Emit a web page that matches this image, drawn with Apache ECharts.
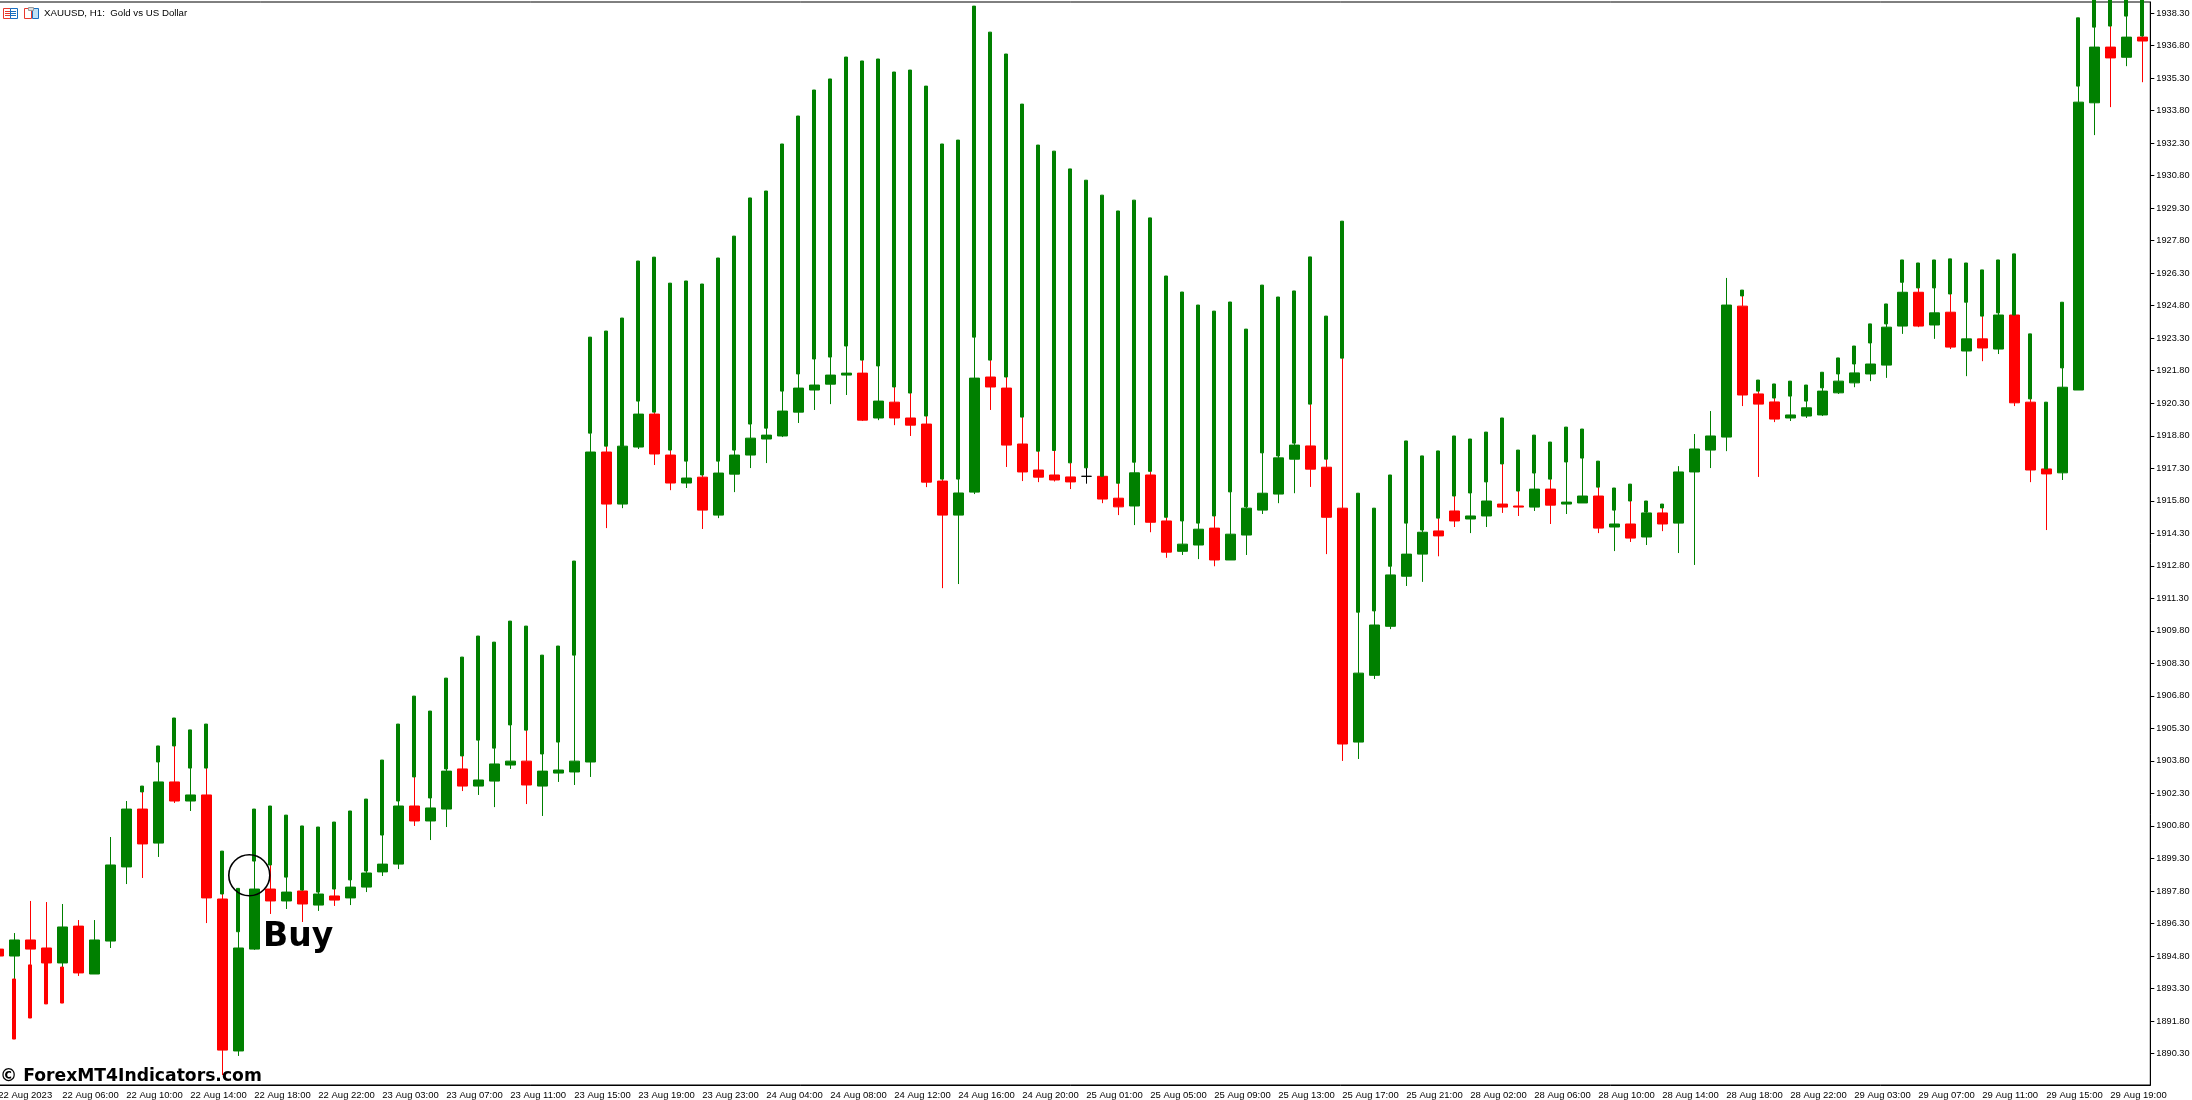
<!DOCTYPE html>
<html>
<head>
<meta charset="utf-8">
<title>XAUUSD, H1</title>
<style>
  html, body { margin: 0; padding: 0; background: #fff; overflow: hidden; }
  /* first bar is cut by the left edge of the window, same as the terminal */
  #chart { width: 2202px; height: 1100px; margin-left: -10px; }
</style>
<script src="https://cdn.jsdelivr.net/npm/echarts@6/dist/echarts.min.js"></script>
</head>
<body>
<div id="chart"></div>
<script>
// hourly bars
const opens = [
  1895.12,1894.80,1895.54,1895.17,1894.48,1896.18,1893.97,1895.49,1898.91,1901.58,
  1900.01,1902.83,1901.95,1902.23,1897.43,1890.42,1895.12,1897.89,1897.34,1897.80,
  1897.15,1897.57,1897.48,1897.98,1898.68,1899.04,1901.72,1901.03,1901.58,1903.43,
  1902.64,1902.87,1903.61,1903.79,1902.64,1903.24,1903.29,1903.75,1918.05,1915.65,
  1918.28,1919.80,1917.91,1916.62,1916.89,1915.14,1917.03,1917.91,1918.65,1918.79,
  1919.89,1920.91,1921.18,1921.60,1921.69,1919.62,1920.35,1919.62,1919.34,1916.71,
  1915.14,1916.20,1921.51,1921.00,1918.42,1917.22,1916.99,1916.90,1916.93,1916.93,
  1915.92,1915.56,1916.99,1914.87,1913.47,1913.76,1914.54,1913.07,1914.22,1915.37,
  1916.11,1917.72,1918.33,1917.35,1915.46,1904.67,1907.75,1910.01,1912.32,1913.34,
  1914.41,1915.33,1914.96,1915.10,1915.65,1915.56,1915.51,1916.34,1915.65,1915.70,
  1916.02,1914.59,1914.73,1914.13,1915.24,1914.77,1917.13,1918.14,1918.74,1924.78,
  1920.73,1920.36,1919.62,1919.71,1919.76,1920.78,1921.24,1921.65,1922.06,1923.86,
  1925.42,1923.91,1924.50,1922.71,1923.27,1922.80,1924.37,1920.35,1917.27,1917.09,
  1920.91,1934.16,1936.73,1936.26,1937.19
];
const closes = [
  1894.80,1895.54,1895.12,1894.48,1896.14,1894.02,1895.54,1899.00,1901.58,1899.97,
  1902.83,1901.95,1902.23,1897.48,1890.46,1895.17,1897.89,1897.34,1897.75,1897.20,
  1897.66,1897.38,1897.98,1898.63,1899.04,1901.72,1901.03,1901.63,1903.33,1902.64,
  1902.92,1903.66,1903.79,1902.69,1903.33,1903.38,1903.79,1918.05,1915.65,1918.32,
  1919.80,1917.96,1916.62,1916.85,1915.37,1917.08,1917.91,1918.69,1918.83,1919.94,
  1921.00,1921.14,1921.60,1921.69,1919.52,1920.40,1919.62,1919.29,1916.66,1915.14,
  1916.16,1921.46,1921.05,1918.37,1917.13,1916.89,1916.76,1916.67,1916.93,1915.88,
  1915.52,1917.09,1914.81,1913.43,1913.80,1914.49,1913.07,1914.26,1915.46,1916.15,
  1917.78,1918.37,1917.26,1915.04,1904.58,1907.85,1910.07,1912.38,1913.34,1914.35,
  1914.18,1914.87,1915.10,1915.79,1915.51,1915.51,1916.34,1915.60,1915.74,1916.02,
  1914.54,1914.73,1914.08,1915.24,1914.73,1917.13,1918.19,1918.79,1924.83,1920.68,
  1920.26,1919.57,1919.76,1920.09,1920.86,1921.32,1921.70,1922.11,1923.81,1925.42,
  1923.86,1924.47,1922.89,1923.27,1922.85,1924.37,1920.32,1917.22,1917.04,1921.04,
  1934.19,1936.73,1936.23,1937.19,1937.01
];
const highs = [
  1895.23,1895.86,1897.34,1897.29,1897.20,1896.46,1896.46,1900.29,1901.95,1902.37,
  1903.75,1904.49,1903.47,1903.47,1897.66,1895.92,1899.18,1899.00,1898.44,1897.84,
  1897.75,1897.89,1898.31,1898.72,1900.38,1901.95,1903.06,1902.09,1903.43,1904.03,
  1904.76,1904.39,1905.46,1905.22,1904.12,1904.67,1908.68,1918.92,1918.32,1918.32,
  1920.40,1919.89,1918.14,1917.63,1916.99,1917.63,1918.14,1919.34,1919.15,1920.86,
  1921.65,1922.34,1922.43,1922.94,1922.29,1922.02,1921.05,1920.77,1919.71,1916.80,
  1916.80,1923.35,1922.29,1921.51,1919.66,1918.09,1918.12,1917.55,1917.32,1916.93,
  1916.61,1917.58,1917.16,1915.04,1914.87,1914.77,1915.10,1916.21,1915.52,1918.01,
  1917.87,1918.46,1920.26,1917.72,1922.38,1910.66,1910.72,1912.78,1914.77,1914.45,
  1915.00,1916.02,1916.16,1916.67,1917.50,1916.25,1917.08,1916.80,1917.59,1917.77,
  1916.43,1915.37,1915.79,1915.28,1915.47,1917.40,1918.88,1919.94,1926.08,1925.25,
  1920.86,1920.54,1920.63,1920.40,1921.01,1921.65,1922.11,1923.08,1923.96,1925.88,
  1925.62,1925.62,1925.34,1924.96,1924.32,1924.47,1924.37,1920.50,1917.27,1921.93,
  1934.93,1937.65,1937.70,1938.16,1937.24
];
const lows = [
  1894.77,1893.74,1894.39,1894.48,1894.29,1893.88,1893.97,1895.17,1898.12,1898.40,
  1899.37,1901.86,1901.49,1896.32,1889.31,1890.19,1895.08,1896.74,1896.97,1896.37,
  1896.88,1897.11,1897.15,1897.75,1898.49,1898.81,1900.80,1900.15,1900.75,1902.41,
  1902.23,1901.67,1903.43,1901.81,1901.26,1902.83,1902.69,1903.06,1914.54,1915.46,
  1918.19,1917.45,1916.29,1916.39,1914.50,1915.00,1916.20,1917.31,1917.54,1918.74,
  1919.39,1919.99,1920.26,1920.68,1919.48,1919.52,1919.29,1918.79,1916.43,1911.77,
  1911.96,1916.11,1919.99,1917.36,1916.71,1916.66,1916.69,1916.34,1916.59,1915.69,
  1915.14,1914.68,1914.35,1913.17,1913.30,1913.11,1912.78,1913.07,1913.30,1915.19,
  1915.69,1916.15,1916.44,1913.34,1903.80,1903.89,1907.58,1909.88,1911.87,1912.06,
  1913.24,1914.59,1914.31,1914.59,1915.24,1915.10,1915.33,1914.73,1915.19,1915.70,
  1914.31,1913.48,1913.90,1913.76,1914.40,1913.39,1912.84,1917.31,1918.09,1920.17,
  1916.90,1919.43,1919.48,1919.62,1919.71,1920.73,1921.04,1921.32,1921.47,1923.50,
  1923.81,1923.27,1922.80,1921.55,1922.24,1922.57,1920.17,1916.66,1914.45,1916.76,
  1920.91,1932.67,1933.96,1935.85,1935.11
];
// the indicator's thick bars: open above close means a red one
const bandOpens = [
  null,1893.74,1894.39,1894.48,1894.29,null,null,null,null,1902.37,
  1903.75,1904.49,1903.47,1903.47,1897.66,1895.92,1899.18,1899.00,1898.44,1897.84,
  1897.75,1897.89,1898.31,1898.72,1900.38,1901.95,1903.06,1902.09,1903.43,1904.03,
  1904.76,1904.39,1905.46,1905.22,1904.12,1904.67,1908.68,1918.92,1918.32,1918.32,
  1920.40,1919.89,1918.14,1917.63,1916.99,1917.63,1918.14,1919.34,1919.15,1920.86,
  1921.65,1922.34,1922.43,1922.94,1922.29,1922.02,1921.05,1920.77,1919.71,1916.80,
  1916.80,1923.35,1922.29,1921.51,1919.66,1918.09,1918.12,1917.55,1917.32,1916.93,
  1916.61,1917.58,1917.16,1915.04,1914.87,1914.77,1915.10,1916.21,1915.52,1918.01,
  1917.87,1918.46,1920.26,1917.72,1922.38,1910.66,1910.72,1912.78,1914.77,1914.45,
  1915.00,1916.02,1916.16,1916.67,1917.50,1916.25,1917.08,1916.80,1917.59,1917.77,
  1916.43,1915.37,1915.79,1915.28,1915.47,null,null,null,null,1925.25,
  1920.86,1920.54,1920.63,1920.40,1921.01,1921.65,1922.11,1923.08,1923.96,1925.88,
  1925.62,1925.62,1925.34,1924.96,1924.32,1924.47,1924.37,1920.50,1917.27,1921.93,
  1934.93,1937.65,1937.70,1938.16,1937.24
];
const bandCloses = [
  null,1890.97,1891.94,1892.59,1892.63,null,null,null,null,1902.64,
  1904.49,1905.78,1905.23,1905.50,1899.64,1897.92,1901.58,1901.72,1901.30,1900.80,
  1900.75,1900.98,1901.49,1902.04,1903.84,1905.50,1906.79,1906.10,1907.62,1908.59,
  1909.56,1909.28,1910.25,1910.02,1908.68,1909.10,1913.02,1923.35,1923.63,1924.23,
  1926.86,1927.04,1925.84,1925.94,1925.80,1927.00,1928.01,1929.77,1930.09,1932.26,
  1933.55,1934.75,1935.26,1936.27,1936.09,1936.18,1935.58,1935.67,1934.93,1932.26,
  1932.44,1938.62,1937.42,1936.41,1934.10,1932.21,1931.93,1931.11,1930.59,1929.90,
  1929.17,1929.67,1928.85,1926.17,1925.43,1924.83,1924.55,1924.97,1923.72,1925.75,
  1925.20,1925.48,1927.05,1924.32,1928.70,1916.15,1915.46,1916.99,1918.56,1917.87,
  1918.10,1918.79,1918.65,1918.97,1919.62,1918.14,1918.83,1918.51,1919.20,1919.11,
  1917.63,1916.39,1916.57,1915.79,1915.65,null,null,null,null,1925.52,
  1921.37,1921.19,1921.32,1921.14,1921.73,1922.39,1922.94,1923.96,1924.88,1926.91,
  1926.77,1926.91,1926.96,1926.77,1926.45,1926.91,1927.19,1923.50,1920.35,1924.96,
  1938.08,1939.50,1939.60,1939.50,1939.30
];
// one label every 4 bars
const timeLabels = [
  "22 Aug 2023","22 Aug 06:00","22 Aug 10:00","22 Aug 14:00","22 Aug 18:00","22 Aug 22:00",
  "23 Aug 03:00","23 Aug 07:00","23 Aug 11:00","23 Aug 15:00","23 Aug 19:00","23 Aug 23:00",
  "24 Aug 04:00","24 Aug 08:00","24 Aug 12:00","24 Aug 16:00","24 Aug 20:00",
  "25 Aug 01:00","25 Aug 05:00","25 Aug 09:00","25 Aug 13:00","25 Aug 17:00","25 Aug 21:00",
  "28 Aug 02:00","28 Aug 06:00","28 Aug 10:00","28 Aug 14:00","28 Aug 18:00","28 Aug 22:00",
  "29 Aug 03:00","29 Aug 07:00","29 Aug 11:00","29 Aug 15:00","29 Aug 19:00"
];
const priceTicks = [
  1890.30,1891.80,1893.30,1894.80,1896.30,1897.80,1899.30,1900.80,1902.30,1903.80,1905.30,
  1906.80,1908.30,1909.80,1911.30,1912.80,1914.30,1915.80,1917.30,1918.80,1920.30,1921.80,
  1923.30,1924.80,1926.30,1927.80,1929.30,1930.80,1932.30,1933.80,1935.30,1936.80,1938.30
];

const green = "#008000";
const red = "#ff0000";
const labelFont = "Liberation Sans";

let categories = opens.map(function(v, i) {
  return i % 4 === 0 ? timeLabels[i / 4] : "";
});

let candleData = opens.map(function(open, i) {
  let item = { value: [open, closes[i], lows[i], highs[i]] };
  if (open === closes[i]) {
    // doji is drawn in black
    item.itemStyle = { color: "#000", color0: "#000", borderColor: "#000", borderColor0: "#000" };
  }
  return item;
});

let bandData = bandOpens.map(function(open, i) {
  if (open === null) return ["-", "-", "-", "-"];
  let close = bandCloses[i];
  return [open, close, Math.min(open, close), Math.max(open, close)];
});

let candleStyle = { color: green, color0: red, borderColor: green, borderColor0: red, borderWidth: 1 };

// small toolbar icons next to the title
function iconRect(x, y, w, h, stroke, fill) {
  return { type: "rect", shape: { x: x, y: y, width: w, height: h }, style: { fill: fill || "none", stroke: stroke, lineWidth: 1 }, silent: true };
}
function iconLine(x1, x2, y, stroke) {
  return { type: "line", shape: { x1: x1, y1: y, x2: x2, y2: y }, style: { stroke: stroke, lineWidth: 1 }, silent: true };
}

let chart = echarts.init(document.getElementById("chart"));
chart.setOption({
  animation: false,
  backgroundColor: "#fff",
  grid: { left: 0.3, top: 2, width: 2160, height: 1083, outerBoundsMode: "none", show: true, borderColor: "#000", borderWidth: 1, backgroundColor: "#fff" },
  xAxis: {
    type: "category",
    data: categories,
    boundaryGap: true,
    axisLine: { lineStyle: { color: "#000", width: 1 } },
    axisTick: { alignWithLabel: true, interval: 3, length: 4, lineStyle: { color: "#000" } },
    axisLabel: { interval: 3, align: "left", margin: 5, color: "#000", fontFamily: labelFont, fontSize: 9.5, hideOverlap: false },
    splitLine: { show: false }
  },
  yAxis: {
    type: "value",
    position: "right",
    min: 1888.85,
    max: 1938.81,
    scale: true,
    axisLine: { show: true, lineStyle: { color: "#000", width: 1 } },
    axisTick: { show: true, length: 4, customValues: priceTicks, lineStyle: { color: "#000" } },
    axisLabel: {
      color: "#000",
      fontFamily: labelFont,
      fontSize: 9.2,
      margin: 6,
      customValues: priceTicks,
      formatter: function(v) { return v.toFixed(2); }
    },
    splitLine: { show: false }
  },
  series: [
    { name: "XAUUSD", type: "candlestick", barWidth: 10, data: candleData, itemStyle: candleStyle, clip: true },
    { name: "band", type: "candlestick", barWidth: 3.4, data: bandData, itemStyle: candleStyle, clip: true }
  ],
  graphic: [{
    type: "group",
    x: 10,
    y: 0,
    children: [
      iconRect(3.5, 8.5, 7, 10, "#e8392c"), iconRect(10.5, 8.5, 7, 10, "#1a6fc0"),
      iconLine(5, 10, 11.5, "#e8392c"), iconLine(5, 10, 13.5, "#e8392c"), iconLine(5, 10, 15.5, "#e8392c"),
      iconLine(11, 16, 11.5, "#1a6fc0"), iconLine(11, 16, 13.5, "#1a6fc0"), iconLine(11, 16, 15.5, "#1a6fc0"),
      iconRect(24.5, 8.5, 7, 10, "#e8392c"), iconRect(32.5, 8.5, 6, 10, "#1a6fc0", "#bfe0f5"), iconRect(28.5, 7.5, 5, 3, "#9a9a9a", "#ddd"),
      { type: "text", x: 44, y: 13, z: 10, silent: true, style: { text: "XAUUSD, H1:  Gold vs US Dollar", fill: "#000", font: "9.7px 'Liberation Sans'", verticalAlign: "middle" } },
      { type: "circle", z: 10, silent: true, shape: { cx: 249.3, cy: 875.3, r: 20.5 }, style: { fill: "none", stroke: "#000", lineWidth: 1.6 } },
      { type: "text", x: 263, y: 937, z: 10, silent: true, style: { text: "Buy", fill: "#000", font: "bold 33px 'DejaVu Sans'", verticalAlign: "middle" } },
      { type: "text", x: 0, y: 1076.5, z: 10, silent: true, style: { text: "\u00a9 ForexMT4Indicators.com", fill: "#000", font: "bold 17.2px 'DejaVu Sans'", verticalAlign: "middle" } }
    ]
  }]
});
</script>
</body>
</html>
